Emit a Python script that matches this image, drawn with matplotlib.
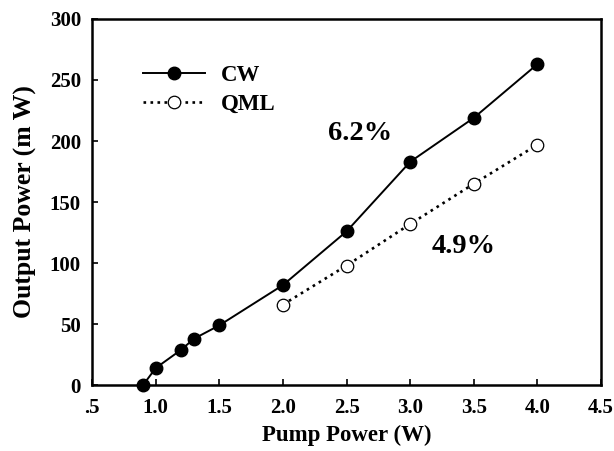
import matplotlib.pyplot as plt

plt.rcParams['font.family'] = ['Liberation Serif', 'DejaVu Serif']
plt.rcParams['font.weight'] = 'bold'

# CW data
cw_pump = [0.9, 1.0, 1.2, 1.3, 1.5, 2.0, 2.5, 3.0, 3.5, 4.0]
cw_out = [0, 14, 29, 38, 49, 82, 126, 183, 219, 263]

# QML data
qml_pump = [2.0, 2.5, 3.0, 3.5, 4.0]
qml_out = [66, 98, 132, 165, 197]

x_ticks = [0.5, 1.0, 1.5, 2.0, 2.5, 3.0, 3.5, 4.0, 4.5]
x_labels = ['.5', '1.0', '1.5', '2.0', '2.5', '3.0', '3.5', '4.0', '4.5']
y_ticks = [0, 50, 100, 150, 200, 250, 300]

fig = plt.figure(figsize=(6.14, 4.51), dpi=100)
ax = fig.add_axes([0.150, 0.146, 0.829, 0.812])

ax.plot(cw_pump, cw_out, '-o', color='black', lw=1.4, ms=9,
        mfc='black', mec='black', label='CW', clip_on=False, zorder=3)
ax.plot(qml_pump, qml_out, ':o', color='black', lw=1.9, ms=9,
        mfc='white', mec='black', mew=0.9, label='QML', clip_on=False, zorder=3)

ax.set_xlim(0.5, 4.5)
ax.set_ylim(0, 300)
ax.set_xticks(x_ticks)
ax.set_xticklabels(x_labels)
ax.set_yticks(y_ticks)
ax.tick_params(direction='in', length=4, width=1.2, labelsize=15)
ax.tick_params(axis='x', pad=9)
ax.tick_params(axis='y', pad=8)
for s in ax.spines.values():
    s.set_linewidth(1.8)

ax.set_xlabel('Pump Power (W)', fontsize=16.5, fontweight='bold', labelpad=5)
ax.set_ylabel('Output Power (m W)', fontsize=18.5, fontweight='bold', labelpad=9)

ax.text(2.35, 201, '6.2%', fontsize=20.5, fontweight='bold')
ax.text(3.17, 108, '4.9%', fontsize=20.5, fontweight='bold')

leg = ax.legend(loc='upper left', bbox_to_anchor=(0.06, 0.93), frameon=False,
                fontsize=16.5, handlelength=2.7, handletextpad=0.7, labelspacing=0.35)

fig.savefig('out.png', dpi=100)
